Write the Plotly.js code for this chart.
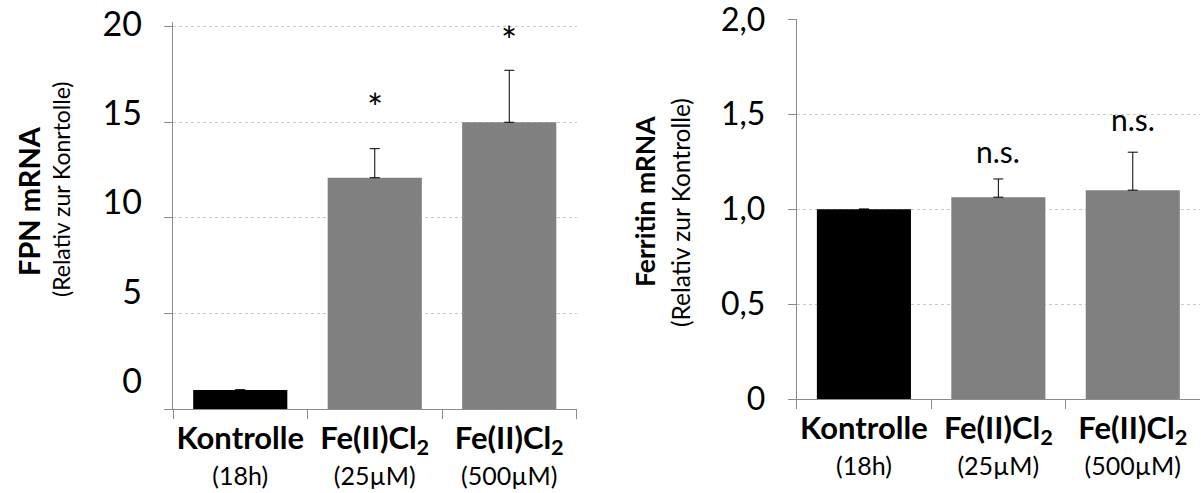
<!DOCTYPE html>
<html><head><meta charset="utf-8">
<script src="https://cdn.plot.ly/plotly-3.0.1.min.js"></script>
<style>html,body{margin:0;padding:0;background:#fff;overflow:hidden}</style>
</head><body>
<div id="chart" style="width:1201px;height:493px"></div>
<script>
// ---- data ----
const categories = ['Kontrolle', 'Fe25', 'Fe500'];
const catMain = ['Kontrolle', 'Fe(II)Cl<sub>2</sub>', 'Fe(II)Cl<sub>2</sub>'];
const catSub = ['(18h)', '(25µM)', '(500µM)'];
const fpnValues = [1.0, 12.1, 15.0];
const fpnErrors = [0, 1.52, 2.72];
const fpnSig = ['', '*', '*'];
const ferritinValues = [1.0, 1.063, 1.10];
const ferritinErrors = [0, 0.096, 0.20];
const ferritinSig = ['', 'n.s.', 'n.s.'];
const fpnTicks = [0, 5, 10, 15, 20];
const fpnTickText = ['0', '5', '10', '15', '20'];
const ferTicks = [0, 0.5, 1, 1.5, 2];
const ferTickText = ['0', '0,5', '1,0', '1,5', '2,0'];

// ---- style ----
const barColors = ['#000000', '#808080', '#808080'];
const FONT = 'Lato, "Open Sans", sans-serif';
const axisGray = '#8c8c8c';
const fpnSigShift = [0, 42, 30];
const ferSigShift = [0, 28, 33];

const catText = catMain.map((m, i) => '<span style="font-size:31px"><b>' + m + '</b></span><br><span style="font-size:25px">' + catSub[i] + '</span>');

const errStyle = {type: 'data', symmetric: false, color: '#000', thickness: 1, width: 5};

const traces = [
  {type: 'bar', x: categories, y: fpnValues, xaxis: 'x', yaxis: 'y',
   marker: {color: barColors, line: {width: 0}},
   error_y: Object.assign({array: fpnErrors, arrayminus: fpnErrors.map(() => 0)}, errStyle),
   hoverinfo: 'skip', showlegend: false},
  {type: 'bar', x: categories, y: ferritinValues, xaxis: 'x2', yaxis: 'y2',
   marker: {color: barColors, line: {width: 0}},
   error_y: Object.assign({array: ferritinErrors, arrayminus: ferritinErrors.map(() => 0)}, errStyle),
   hoverinfo: 'skip', showlegend: false},
  // empty trace so the tick-label axis y3 is drawn
  {type: 'scatter', mode: 'markers', x: [], y: [], xaxis: 'x', yaxis: 'y3',
   hoverinfo: 'skip', showlegend: false}
];

const xCommon = {
  type: 'category', tickmode: 'array', tickvals: categories, ticktext: catText,
  tickson: 'boundaries', ticks: 'outside', ticklen: 9, tickcolor: axisGray, tickwidth: 1,
  showline: true, linecolor: axisGray, linewidth: 1, showgrid: false, zeroline: false,
  tickfont: {family: FONT, size: 28, color: '#000'}, ticklabelstandoff: 5,
  tickangle: 0, ticklabeloverflow: 'allow', automargin: false,
  fixedrange: true
};
const gridStyle = {showgrid: true, gridcolor: '#c8c8c8', griddash: 'dot', gridwidth: 1};

const annotations = [];
categories.forEach((c, i) => {
  if (fpnSig[i]) annotations.push({x: c, y: fpnValues[i] + fpnErrors[i], xref: 'x', yref: 'y',
    text: fpnSig[i], showarrow: false, yanchor: 'middle', yshift: fpnSigShift[i],
    font: {family: FONT, size: 38, color: '#000'}});
  if (ferritinSig[i]) annotations.push({x: c, y: ferritinValues[i] + ferritinErrors[i], xref: 'x2', yref: 'y2',
    text: ferritinSig[i], showarrow: false, yanchor: 'middle', yshift: ferSigShift[i],
    font: {family: FONT, size: 30, color: '#000'}});
});
annotations.push(
  {text: '<b>FPN mRNA</b>', xref: 'paper', yref: 'paper', x: 29/1201, y: 1 - 201/493, textangle: -90,
   showarrow: false, xanchor: 'center', yanchor: 'middle', font: {family: FONT, size: 29, color: '#000'}},
  {text: '(Relativ zur Konrtolle)', xref: 'paper', yref: 'paper', x: 61/1201, y: 1 - 190/493, textangle: -90,
   showarrow: false, xanchor: 'center', yanchor: 'middle', font: {family: FONT, size: 23, color: '#000'}},
  {text: '<b>Ferritin mRNA</b>', xref: 'paper', yref: 'paper', x: 645/1201, y: 1 - 202/493, textangle: -90,
   showarrow: false, xanchor: 'center', yanchor: 'middle', font: {family: FONT, size: 26.5, color: '#000'}},
  {text: '(Relativ zur Kontrolle)', xref: 'paper', yref: 'paper', x: 680/1201, y: 1 - 213/493, textangle: -90,
   showarrow: false, xanchor: 'center', yanchor: 'middle', font: {family: FONT, size: 24.5, color: '#000'}}
);

const layout = {
  width: 1201, height: 493,
  margin: {l: 0, r: 0, t: 0, b: 0},
  paper_bgcolor: '#fff', plot_bgcolor: '#fff',
  bargap: 0.3,
  showlegend: false,
  font: {family: FONT, color: '#000'},
  xaxis: Object.assign({}, xCommon, {domain: [173/1201, 576.5/1201], anchor: 'y'}),
  xaxis2: Object.assign({}, xCommon, {domain: [796.7/1201, 1200/1201], anchor: 'y2'}),
  yaxis: Object.assign({}, gridStyle, {
    domain: [1 - 409/493, 1 - 22/493], range: [0, 20.246], anchor: 'x',
    tickmode: 'array', tickvals: fpnTicks, showticklabels: false,
    ticks: 'outside', ticklen: 8, tickcolor: axisGray,
    showline: true, linecolor: axisGray, linewidth: 1, zeroline: false, fixedrange: true}),
  yaxis3: {
    overlaying: 'y', anchor: 'x', side: 'left', range: [-1.568, 20.10],
    tickmode: 'array', tickvals: fpnTicks, ticktext: fpnTickText,
    showgrid: false, showline: false, zeroline: false, ticks: '',
    ticklabelstandoff: 30, ticklabeloverflow: 'allow',
    tickfont: {family: FONT, size: 34, color: '#000'}, fixedrange: true},
  yaxis2: Object.assign({}, gridStyle, {
    domain: [1 - 399/493, 1 - 19.3/493], range: [0, 2], anchor: 'x2',
    tickmode: 'array', tickvals: ferTicks, ticktext: ferTickText,
    ticks: 'outside', ticklen: 8, tickcolor: axisGray, ticklabelstandoff: 16,
    ticklabeloverflow: 'allow',
    tickfont: {family: FONT, size: 32, color: '#000'},
    showline: true, linecolor: axisGray, linewidth: 1, zeroline: false, fixedrange: true}),
  annotations: annotations
};

Plotly.newPlot('chart', traces, layout, {staticPlot: true, displayModeBar: false});
</script>
</body></html>
